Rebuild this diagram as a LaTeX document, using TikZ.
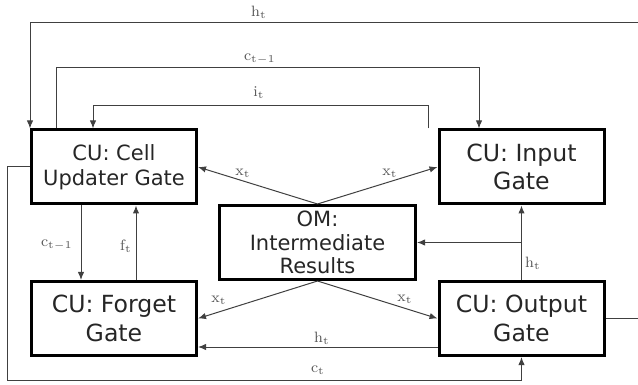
\documentclass[tikz,border=0pt]{standalone}
\usepackage{amsmath}
\usepackage{fontspec}
\newfontfamily\gatefont{DejaVu Sans}
\usetikzlibrary{arrows.meta,positioning,calc}

\begin{document}
\begin{tikzpicture}[x=0.5pt,y=-0.5pt,>={Latex[length=4pt,width=3.2pt]},
  gate/.style={draw,line width=1.5pt,minimum width=82.5pt,minimum height=37pt,align=center,inner sep=1pt,text=black!85,font=\gatefont\fontsize{11.8}{14.2}\selectfont},
  link/.style={draw=black!75,line width=0.5pt},
  lbl/.style={inner sep=0pt,text=black!65,font=\fontsize{7.5}{9}\selectfont}]
  \useasboundingbox (0,0) rectangle (638,385);
  % gates
  \node[gate,font=\gatefont\fontsize{10.5}{12.6}\selectfont] (cell) at (114,167) {CU: Cell\\Updater Gate};
  \node[gate] (input) at (521.5,167) {CU: Input\\Gate};
  \node[gate] (forget) at (114,318.5) {CU: Forget\\Gate};
  \node[gate] (output) at (521.5,318.5) {CU: Output\\Gate};
  \node[gate,minimum width=98pt,font=\gatefont\fontsize{10.5}{11.8}\selectfont] (om) at (317.5,242.5) {OM:\\Intermediate\\Results};
  % feedback lines over the top
  \coordinate (htcorner) at (645,23);
  \draw[link,->] (output.east) -| (htcorner) -| (cell.north west);
  \node[lbl] (lhtop) at (259,12) {$\mathrm{h_t}$};
  \coordinate (cupL) at (56,68); \coordinate (cupR) at (479,68);
  \draw[link,->] (cupL |- cell.north) -- (cupL) -- (cupR) -- (cupR |- input.north);
  \node[lbl] (lctop) at (260,59) {$\mathrm{c_{t-1}}$};
  \coordinate (itL) at (93,106); \coordinate (itR) at (428,106);
  \draw[link,->] (itR |- input.north) -- (itR) -- (itL) -- (itL |- cell.north);
  \node[lbl] (litop) at (259,93) {$\mathrm{i_t}$};
  % cell updater <-> forget
  \coordinate (cdn) at (81,245); \coordinate (fup) at (136,245);
  \draw[link,->] (cdn |- cell.south) -- (cdn |- forget.north);
  \draw[link,->] (fup |- forget.north) -- (fup |- cell.south);
  \node[lbl] (lcside) at (57,245) {$\mathrm{c_{t-1}}$};
  \node[lbl] (lfside) at (126,246) {$\mathrm{f_t}$};
  % inputs from OM
  \draw[link,->] (om.north) -- (cell.east);
  \draw[link,->] (om.north) -- (input.west);
  \draw[link,->] (om.south) -- (forget.east);
  \draw[link,->] (om.south) -- (output.west);
  \node[lbl] (lxcell) at (243,173) {$\mathrm{x_t}$};
  \node[lbl] (lxin) at (390,173) {$\mathrm{x_t}$};
  \node[lbl] (lxfg) at (219,300) {$\mathrm{x_t}$};
  \node[lbl] (lxout) at (405,299) {$\mathrm{x_t}$};
  % output h_t
  \draw[link,->] (output.north) -- (input.south);
  \draw[link,->] (output.north |- om.east) -- (om.east);
  \node[lbl] (lhom) at (533,263) {$\mathrm{h_t}$};
  \coordinate (hbot) at (300,347);
  \draw[link,->] (output.west |- hbot) -- (forget.east |- hbot);
  \node[lbl] (lhbot) at (322,338) {$\mathrm{h_t}$};
  % cell state c_t round the bottom
  \coordinate (ctcorner) at (7,380);
  \draw[link,->] (cell.west) -| (ctcorner) -| (output.south);
  \node[lbl] (lct) at (318,370) {$\mathrm{c_t}$};
\end{tikzpicture}
\end{document}
